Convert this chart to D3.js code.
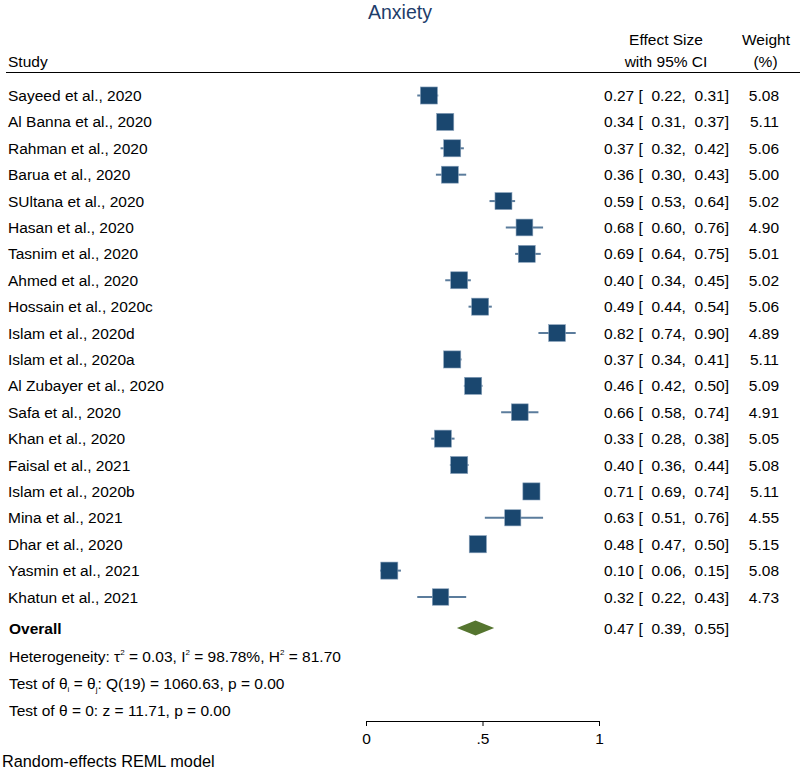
<!DOCTYPE html>
<html><head><meta charset="utf-8">
<script src="https://cdn.jsdelivr.net/npm/d3@7"></script>
<style>body{margin:0;background:#fff}svg{display:block}text{font-family:"Liberation Sans",Arial,sans-serif;fill:#000}</style>
</head><body>
<script>
const studies = ["Sayeed et al., 2020","Al Banna et al., 2020","Rahman et al., 2020","Barua et al., 2020","SUltana et al., 2020","Hasan et al., 2020","Tasnim et al., 2020","Ahmed et al., 2020","Hossain et al., 2020c","Islam et al., 2020d","Islam et al., 2020a","Al Zubayer et al., 2020","Safa et al., 2020","Khan et al., 2020","Faisal et al., 2021","Islam et al., 2020b","Mina et al., 2021","Dhar et al., 2020","Yasmin et al., 2021","Khatun et al., 2021"];
const es =    [0.27,0.34,0.37,0.36,0.59,0.68,0.69,0.40,0.49,0.82,0.37,0.46,0.66,0.33,0.40,0.71,0.63,0.48,0.10,0.32];
const lower = [0.22,0.31,0.32,0.30,0.53,0.60,0.64,0.34,0.44,0.74,0.34,0.42,0.58,0.28,0.36,0.69,0.51,0.47,0.06,0.22];
const upper = [0.31,0.37,0.42,0.43,0.64,0.76,0.75,0.45,0.54,0.90,0.41,0.50,0.74,0.38,0.44,0.74,0.76,0.50,0.15,0.43];
const weights = [5.08,5.11,5.06,5.00,5.02,4.90,5.01,5.02,5.06,4.89,5.11,5.09,4.91,5.05,5.08,5.11,4.55,5.15,5.08,4.73];
const overall = {es:0.47, lo:0.39, hi:0.55};
const xTicks = [0, 0.5, 1];
const xTickLabels = ["0", ".5", "1"];

const W = 800, H = 771;
const svg = d3.select("body").append("svg").attr("width", W).attr("height", H);
const x = d3.scaleLinear().domain([0, 1]).range([366, 599]);
const y = d3.scaleLinear().domain([0, studies.length - 1]).range([95.5, 597]);
const size = d3.scaleSqrt().domain([0, d3.max(weights)]).range([0, 17.2]);
const FS = 15.5, off = 5.5;
const fmt = d3.format(".2f");

svg.append("text").attr("x", 400).attr("y", 19).attr("text-anchor", "middle")
  .style("font-size", "19.5px").style("fill", "#1e3d6b").text("Anxiety");

const hdr = svg.append("g").style("font-size", FS + "px");
hdr.append("text").attr("x", 8).attr("y", 67).text("Study");
hdr.append("text").attr("x", 666).attr("y", 45).attr("text-anchor", "middle").text("Effect Size");
hdr.append("text").attr("x", 666).attr("y", 67).attr("text-anchor", "middle").text("with 95% CI");
hdr.append("text").attr("x", 766).attr("y", 45).attr("text-anchor", "middle").text("Weight");
hdr.append("text").attr("x", 765.5).attr("y", 67).attr("text-anchor", "middle").text("(%)");
svg.append("line").attr("x1", 6).attr("x2", 800).attr("y1", 72.5).attr("y2", 72.5)
  .attr("stroke", "#000").attr("stroke-width", 1.2);

const rows = svg.append("g");
studies.forEach((s, i) => {
  const cy = y(i);
  rows.append("line").attr("x1", x(lower[i])).attr("x2", x(upper[i])).attr("y1", cy).attr("y2", cy)
    .attr("stroke", "#5b7c9c").attr("stroke-width", 2);
  const sz = size(weights[i]);
  rows.append("rect").attr("x", x(es[i]) - sz / 2).attr("y", cy - sz / 2).attr("width", sz).attr("height", sz)
    .attr("fill", "#1a476f").attr("stroke", "#8aa2bb").attr("stroke-width", 0.6);
  rows.append("text").attr("x", 8).attr("y", cy + off).style("font-size", FS + "px").text(s);
  rows.append("text").attr("x", 729).attr("y", cy + off).attr("text-anchor", "end")
    .attr("xml:space", "preserve").style("white-space", "pre").style("font-size", FS + "px")
    .text(`${fmt(es[i])} [  ${fmt(lower[i])},  ${fmt(upper[i])}]`);
  rows.append("text").attr("x", 779).attr("y", cy + off).attr("text-anchor", "end")
    .style("font-size", FS + "px").text(fmt(weights[i]));
});

// overall
const oy = 628;
svg.append("polygon")
  .attr("points", [[x(overall.lo), oy], [x(overall.es), oy - 7.5], [x(overall.hi), oy], [x(overall.es), oy + 7.5]].map(p => p.join(",")).join(" "))
  .attr("fill", "#55752f");
svg.append("text").attr("x", 9).attr("y", oy + off).style("font-size", FS + "px").style("font-weight", "bold").text("Overall");
svg.append("text").attr("x", 729).attr("y", oy + off).attr("text-anchor", "end")
  .attr("xml:space", "preserve").style("white-space", "pre").style("font-size", FS + "px")
  .text(`${fmt(overall.es)} [  ${fmt(overall.lo)},  ${fmt(overall.hi)}]`);

// stats lines
const t1 = svg.append("text").attr("x", 9).attr("y", 656 + off).style("font-size", FS + "px");
t1.append("tspan").text("Heterogeneity: τ");
t1.append("tspan").attr("dy", -7).style("font-size", "8px").text("2");
t1.append("tspan").attr("dy", 7).text(" = 0.03, I");
t1.append("tspan").attr("dy", -7).style("font-size", "8px").text("2");
t1.append("tspan").attr("dy", 7).text(" = 98.78%, H");
t1.append("tspan").attr("dy", -7).style("font-size", "8px").text("2");
t1.append("tspan").attr("dy", 7).text(" = 81.70");

const t2 = svg.append("text").attr("x", 9).attr("y", 683 + off).style("font-size", FS + "px");
t2.append("tspan").text("Test of θ");
t2.append("tspan").attr("dy", 3).style("font-size", "8px").text("i");
t2.append("tspan").attr("dy", -3).text(" = θ");
t2.append("tspan").attr("dy", 3).style("font-size", "8px").text("j");
t2.append("tspan").attr("dy", -3).text(": Q(19) = 1060.63, p = 0.00");

svg.append("text").attr("x", 9).attr("y", 710 + off).style("font-size", FS + "px")
  .text("Test of θ = 0: z = 11.71, p = 0.00");

// axis
const axis = d3.axisBottom(x).tickValues(xTicks).tickFormat((d, i) => xTickLabels[i]).tickSize(5).tickSizeOuter(0);
const ag = svg.append("g").attr("transform", "translate(0,721)").call(axis);
ag.select(".domain").attr("stroke", "#000").attr("stroke-width", 1);
ag.selectAll(".tick line").attr("stroke", "#000");
ag.selectAll(".tick text").style("font-size", FS + "px").style("font-family", '"Liberation Sans",Arial,sans-serif').attr("dy", "0.95em").attr("fill", "#000");

svg.append("text").attr("x", 2).attr("y", 767).style("font-size", "16.3px").text("Random-effects REML model");
</script>
</body></html>
